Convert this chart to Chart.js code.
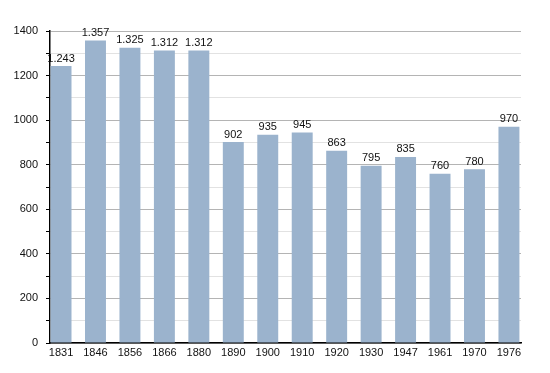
<!DOCTYPE html>
<html>
<head>
<meta charset="utf-8">
<script src="https://cdn.jsdelivr.net/npm/chart.js@4"></script>
<style>
  html,body{margin:0;padding:0;background:#fff;}
  #wrap{width:550px;height:373px;}
</style>
</head>
<body>
<div id="wrap"><canvas id="chart" width="550" height="373"></canvas></div>
<script>
const years=['1831','1846','1856','1866','1880','1890','1900','1910','1920','1930','1947','1961','1970','1976'];
const population=[1243,1357,1325,1312,1312,902,935,945,863,795,835,760,780,970];
const barLabels=['1.243','1.357','1.325','1.312','1.312','902','935','945','863','795','835','760','780','970'];

// bars placed by index on a linear x scale so the outer bars sit against the plot edges
const points=population.map(function(v,i){return {x:i,y:v};});

const valueLabels={
    id:'valueLabels',
    afterDatasetsDraw(chart){
        const ctx=chart.ctx;
        const meta=chart.getDatasetMeta(0);
        ctx.save();
        ctx.font='11px "Liberation Sans", Arial, sans-serif';
        ctx.fillStyle='#111';
        ctx.textAlign='center';
        ctx.textBaseline='bottom';
        meta.data.forEach(function(bar,i){
            ctx.fillText(barLabels[i],bar.x,bar.y-2);
        });
        ctx.restore();
    }
};

let chart=document.getElementById("chart");

new Chart(chart,{
    type:"bar",
    data:{
        datasets:[
            {
                data:points,
                backgroundColor:'#9bb3cd',
                barPercentage:0.8,
                categoryPercentage:0.76
            }
        ]
    },
    options:{
        responsive:false,
        animation:false,
        layout:{padding:{left:0,right:29,top:31,bottom:0}},
        plugins:{
            legend:{display:false},
            tooltip:{enabled:false}
        },
        scales:{
            x:{
                type:'linear',
                offset:false,
                min:-0.32,
                max:13.35,
                grid:{display:false,drawTicks:false,tickLength:0},
                border:{display:true,color:'#000',width:1.5},
                ticks:{
                    stepSize:1,
                    includeBounds:false,
                    autoSkip:false,
                    color:'#111',
                    font:{family:'"Liberation Sans", Arial, sans-serif',size:11},
                    maxRotation:0,
                    padding:3,
                    callback:v=>Number.isInteger(v)&&years[v]?years[v]:''
                },
                afterFit(scale){scale.height=30;}
            },
            y:{
                min:0,
                max:1400,
                border:{display:true,color:'#000',width:1.5},
                grid:{
                    color:ctx=>ctx.tick.value%200===0?'#b4b4b4':'#e2e2e2',
                    tickColor:'#000',
                    tickLength:4
                },
                ticks:{
                    stepSize:100,
                    color:'#111',
                    font:{family:'"Liberation Sans", Arial, sans-serif',size:11},
                    padding:8,
                    callback:v=>v%200===0?v:''
                },
                afterFit(scale){scale.width=50;}
            }
        }
    },
    plugins:[valueLabels]
});
</script>
</body>
</html>
